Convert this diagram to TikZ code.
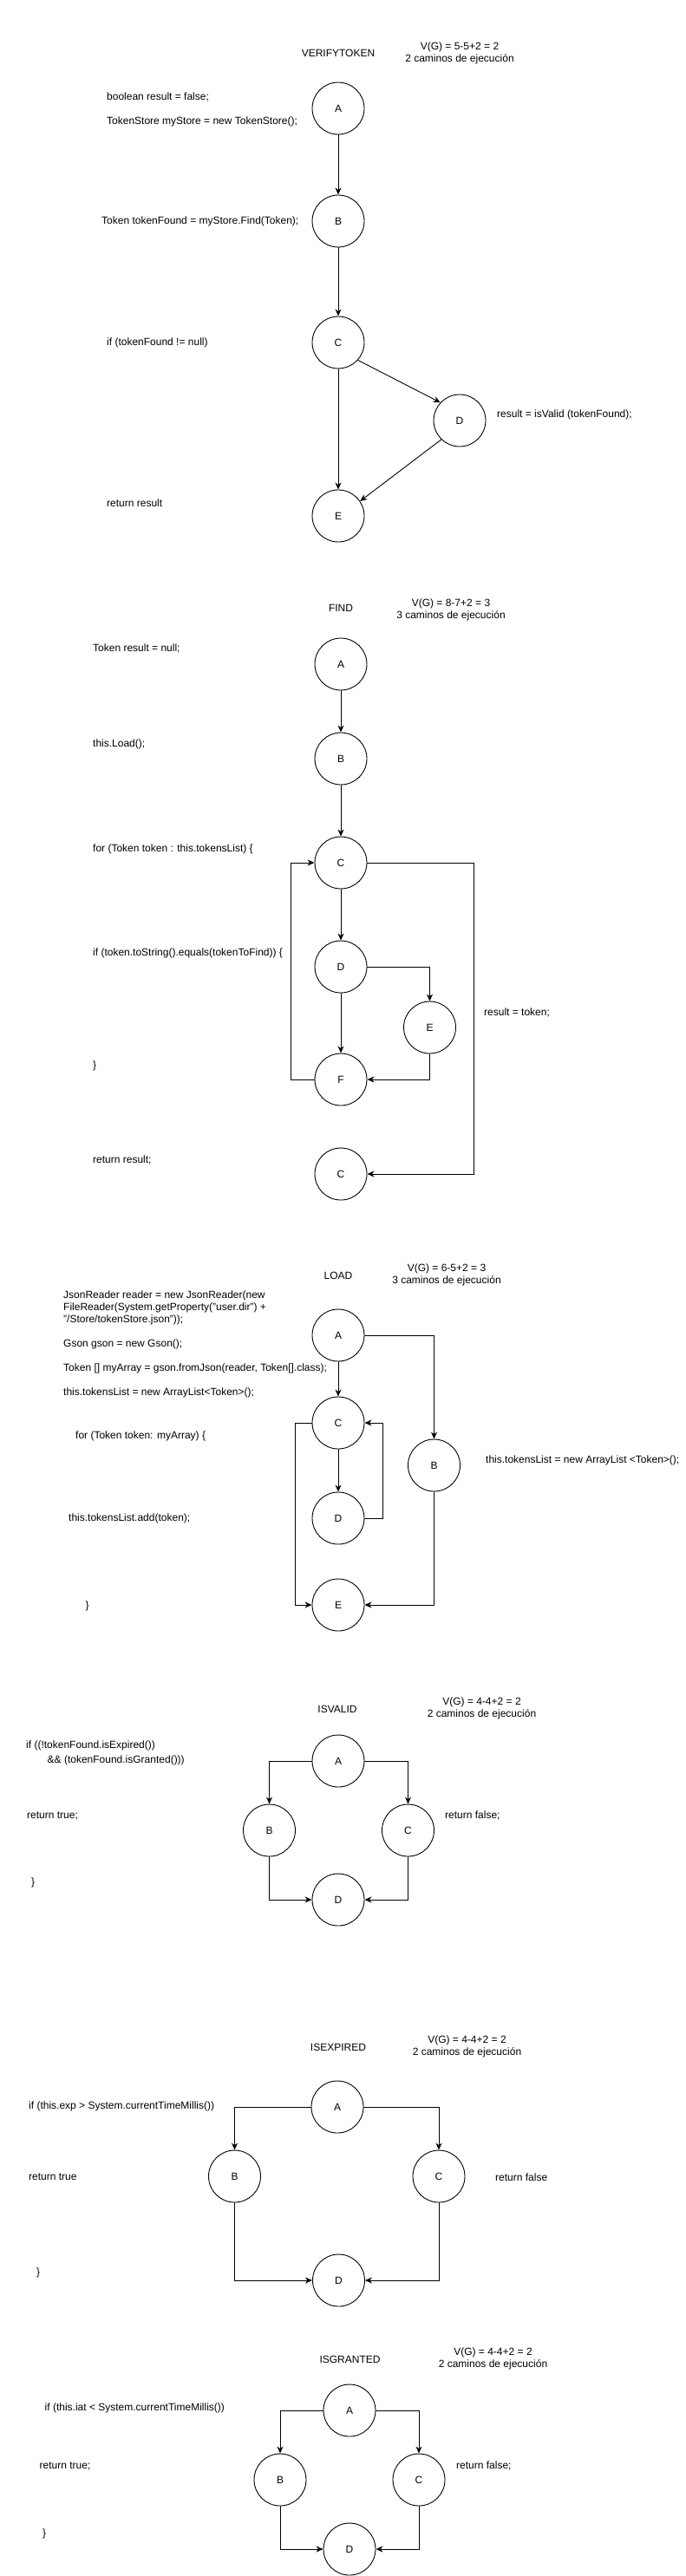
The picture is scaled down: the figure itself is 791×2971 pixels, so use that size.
\documentclass[tikz,border=0pt]{standalone}
\usepackage{fontspec}
\setmainfont{Liberation Sans}
\usetikzlibrary{arrows.meta, calc}
\newcommand{\flowArrow}{{Stealth[length=8pt, width=7pt, inset=2.5pt]}}

\begin{document}
\begin{tikzpicture}[x=1pt, y=-1pt, font=\fontsize{12}{14}\selectfont,
	vertex/.style={circle, draw, line width=0.9pt, minimum size=60pt, inner sep=0pt},
	code/.style={anchor=west, inner sep=0pt, align=left},
	cyclo/.style={inner sep=0pt, align=center},
	flow/.style={-\flowArrow, line width=0.9pt}]
	\useasboundingbox (0,0) rectangle (791,2971);

	% VERIFYTOKEN
	\node[cyclo] (vtTitle) at (390,61) {VERIFYTOKEN};
	\node[cyclo] (vtV) at (530,61.5) {V(G) = 5-5+2 = 2\\2 caminos de ejecución};
	\node[vertex] (vtA) at (390,125) {A};
	\node[vertex] (vtB) at (390,255) {B};
	\node[vertex] (vtC) at (390,395) {C};
	\node[vertex] (vtD) at (530,485) {D};
	\node[vertex] (vtE) at (390,595) {E};
	\node[code] (vtT1) at (123,126) {boolean result = false;\\[14pt]TokenStore myStore = new TokenStore();};
	\node[code] (vtT2) at (117,255) {Token tokenFound = myStore.Find(Token);};
	\node[code] (vtT3) at (123,395) {if (tokenFound != null)};
	\node[code] (vtT4) at (573,478) {result = isValid (tokenFound);};
	\node[code] (vtT5) at (123,580) {return result};
	\draw[flow] (vtA) -- (vtB);
	\draw[flow] (vtB) -- (vtC);
	\draw[flow] (vtC) -- (vtE);
	\draw[flow] (vtC.-42) -- (vtD.137);
	\draw[flow] (vtD.-134) -- (vtE.34);

	% FIND
	\node[cyclo] (fdTitle) at (393,701) {FIND};
	\node[cyclo] (fdV) at (520,703.5) {V(G) = 8-7+2 = 3\\3 caminos de ejecución};
	\node[vertex] (fdA) at (393,766) {A};
	\node[vertex] (fdB) at (393,875) {B};
	\node[vertex] (fdC) at (393,995) {C};
	\node[vertex] (fdD) at (393,1115) {D};
	\node[vertex] (fdE) at (495.5,1185) {E};
	\node[vertex] (fdF) at (393,1245) {F};
	\node[vertex] (fdG) at (393,1354) {C};
	\node[code] (fdT1) at (107,748) {Token result = null;};
	\node[code] (fdT2) at (107,858) {this.Load();};
	\node[code] (fdT3) at (107,979) {for (Token token : this.tokensList) \{};
	\node[code] (fdT4) at (107,1099) {if (token.toString().equals(tokenToFind)) \{};
	\node[code] (fdT5) at (107,1229) {\}};
	\node[code] (fdT6) at (107,1338) {return result;};
	\node[code] (fdT7) at (558,1168) {result = token;};
	\draw[flow] (fdA) -- (fdB);
	\draw[flow] (fdB) -- (fdC);
	\draw[flow] (fdC) -- (fdD);
	\draw[flow] (fdD) -- (fdF);
	\draw[flow] (fdD.east) -| (fdE.north);
	\draw[flow] (fdE.south) |- (fdF.east);
	\draw[flow] (fdF.west) -- ++(-27,0) |- (fdC.west);
	\draw[flow] (fdC.east) -- ++(123,0) |- (fdG.east);

	% LOAD
	\node[cyclo] (ldTitle) at (390,1471) {LOAD};
	\node[cyclo] (ldV) at (515,1470.5) {V(G) = 6-5+2 = 3\\3 caminos de ejecución};
	\node[vertex] (ldA) at (390,1540) {A};
	\node[vertex] (ldB) at (500.5,1690) {B};
	\node[vertex] (ldC) at (390,1641) {C};
	\node[vertex] (ldD) at (390,1751) {D};
	\node[vertex] (ldE) at (390,1851) {E};
	\node[code] (ldT1) at (73,1550.5) {JsonReader reader = new JsonReader(new\\FileReader(System.getProperty("user.dir") +\\"/Store/tokenStore.json"));\\[14pt]Gson gson = new Gson();\\[14pt]Token [] myArray = gson.fromJson(reader, Token[].class);\\[14pt]this.tokensList = new ArrayList<Token>();};
	\node[code] (ldT2) at (87,1656) {for (Token token: myArray) \{};
	\node[code] (ldT3) at (79,1751) {this.tokensList.add(token);};
	\node[code] (ldT4) at (98.5,1852) {\}};
	\node[code] (ldT5) at (560,1684) {this.tokensList = new ArrayList <Token>();};
	\draw[flow] (ldA) -- (ldC);
	\draw[flow] (ldC) -- (ldD);
	\draw[flow] (ldA.east) -| (ldB.north);
	\draw[flow] (ldD.east) -- ++(21,0) |- (ldC.east);
	\draw[flow] (ldC.west) -- ++(-19,0) |- (ldE.west);
	\draw[flow] (ldB.south) |- (ldE.east);

	% ISVALID
	\node[cyclo] (ivTitle) at (389,1971) {ISVALID};
	\node[cyclo] (ivV) at (555.5,1970.5) {V(G) = 4-4+2 = 2\\2 caminos de ejecución};
	\node[vertex] (ivA) at (390,2031) {A};
	\node[vertex] (ivB) at (310.5,2111) {B};
	\node[vertex] (ivC) at (470.5,2111) {C};
	\node[vertex] (ivD) at (390,2191) {D};
	\node[code] (ivT1) at (30,2013) {if ((!tokenFound.isExpired())};
	\node[code] (ivT2) at (54.5,2030) {\&\& (tokenFound.isGranted()))};
	\node[code] (ivT3) at (31,2094) {return true;};
	\node[code] (ivT4) at (36,2171) {\}};
	\node[code] (ivT5) at (513,2094) {return false;};
	\draw[flow] (ivA.west) -| (ivB.north);
	\draw[flow] (ivA.east) -| (ivC.north);
	\draw[flow] (ivB.south) |- (ivD.west);
	\draw[flow] (ivC.south) |- (ivD.east);

	% ISEXPIRED
	\node[cyclo] (ieTitle) at (390,2361) {ISEXPIRED};
	\node[cyclo] (ieV) at (538.5,2360.5) {V(G) = 4-4+2 = 2\\2 caminos de ejecución};
	\node[vertex] (ieA) at (389,2430) {A};
	\node[vertex] (ieB) at (270.5,2510) {B};
	\node[vertex] (ieC) at (506,2510) {C};
	\node[vertex] (ieD) at (390.5,2630) {D};
	\node[code] (ieT1) at (33,2429) {if (this.exp > System.currentTimeMillis())};
	\node[code] (ieT2) at (33,2511) {return true};
	\node[code] (ieT3) at (42,2621) {\}};
	\node[code] (ieT4) at (571,2511) {return false};
	\draw[flow] (ieA.west) -| (ieB.north);
	\draw[flow] (ieA.east) -| (ieC.north);
	\draw[flow] (ieB.south) |- (ieD.west);
	\draw[flow] (ieC.south) |- (ieD.east);

	% ISGRANTED
	\node[cyclo] (igTitle) at (403.5,2721) {ISGRANTED};
	\node[cyclo] (igV) at (568.5,2720.5) {V(G) = 4-4+2 = 2\\2 caminos de ejecución};
	\node[vertex] (igA) at (403,2780) {A};
	\node[vertex] (igB) at (323,2860) {B};
	\node[vertex] (igC) at (483,2860) {C};
	\node[vertex] (igD) at (403,2940) {D};
	\node[code] (igT1) at (51.5,2777) {if (this.iat < System.currentTimeMillis())};
	\node[code] (igT2) at (45.5,2844) {return true;};
	\node[code] (igT3) at (49,2922) {\}};
	\node[code] (igT4) at (526,2844) {return false;};
	\draw[flow] (igA.west) -| (igB.north);
	\draw[flow] (igA.east) -| (igC.north);
	\draw[flow] (igB.south) |- (igD.west);
	\draw[flow] (igC.south) |- (igD.east);

\end{tikzpicture}
\end{document}
